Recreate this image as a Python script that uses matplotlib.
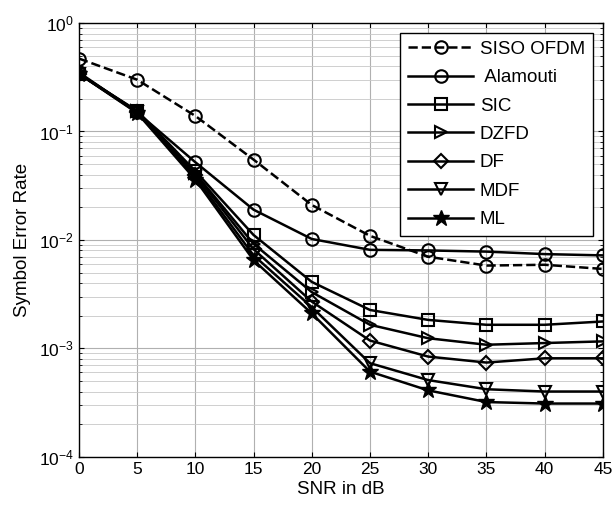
import numpy as np
import matplotlib.pyplot as plt

plt.rcParams['font.family'] = ['Liberation Sans', 'DejaVu Sans']

snr = [0, 5, 10, 15, 20, 25, 30, 35, 40, 45]

siso_ofdm = [0.47, 0.30, 0.139, 0.055, 0.021, 0.0109, 0.0070, 0.0058, 0.0059, 0.0054]
alamouti = [0.35, 0.15, 0.052, 0.019, 0.0102, 0.0081, 0.0080, 0.0078, 0.0074, 0.0072]
sic = [0.34, 0.155, 0.043, 0.0111, 0.0041, 0.00226, 0.00183, 0.00165, 0.00165, 0.00177]
dzfd = [0.34, 0.153, 0.041, 0.0092, 0.0033, 0.00165, 0.00124, 0.00108, 0.00112, 0.00116]
df = [0.34, 0.152, 0.040, 0.0082, 0.0027, 0.00118, 0.00084, 0.00074, 0.00081, 0.00081]
mdf = [0.34, 0.150, 0.038, 0.0072, 0.0024, 0.00073, 0.00051, 0.00042, 0.00040, 0.00040]
ml = [0.34, 0.148, 0.036, 0.0065, 0.0021, 0.00061, 0.00041, 0.00032, 0.00031, 0.00031]

fig = plt.figure(figsize=(6.12, 5.11), dpi=100)
ax = fig.add_axes([0.129, 0.106, 0.856, 0.849])

ms = 9
lw = 1.8
ax.semilogy(snr, siso_ofdm, 'k--o', mfc='none', ms=ms, lw=lw, mew=1.5, label='SISO OFDM')
ax.semilogy(snr, alamouti, 'k-o', mfc='none', ms=ms, lw=lw, mew=1.5, label=' Alamouti')
ax.semilogy(snr, sic, 'k-s', mfc='none', ms=ms, lw=lw, mew=1.5, label='SIC')
ax.semilogy(snr, dzfd, 'k->', mfc='none', ms=ms, lw=lw, mew=1.5, label='DZFD')
ax.semilogy(snr, df, 'k-D', mfc='none', ms=7, lw=lw, mew=1.5, label='DF')
ax.semilogy(snr, mdf, 'k-v', mfc='none', ms=ms, lw=lw, mew=1.5, label='MDF')
ax.semilogy(snr, ml, 'k-*', ms=12, lw=lw, label='ML')

ax.set_xlim(0, 45)
ax.set_ylim(1e-4, 1)
ax.set_xticks(snr)
ax.grid(True, which='major', color='#b0b0b0', lw=0.8)
ax.grid(True, which='minor', color='#c8c8c8', lw=0.6)
ax.tick_params(which='both', direction='in', top=True, right=True, labelsize=12.5)
for s in ax.spines.values():
    s.set_linewidth(1.0)

ax.set_xlabel('SNR in dB', fontsize=13.5, labelpad=3)
ax.set_ylabel('Symbol Error Rate', fontsize=13.5, labelpad=6)

leg = ax.legend(loc='upper right', fontsize=13.5, fancybox=False, framealpha=1,
                edgecolor='black', handlelength=3.5, borderaxespad=0.55,
                labelspacing=0.6, handletextpad=0.35)
leg.get_frame().set_linewidth(1.0)

fig.savefig('out.png', dpi=100)
